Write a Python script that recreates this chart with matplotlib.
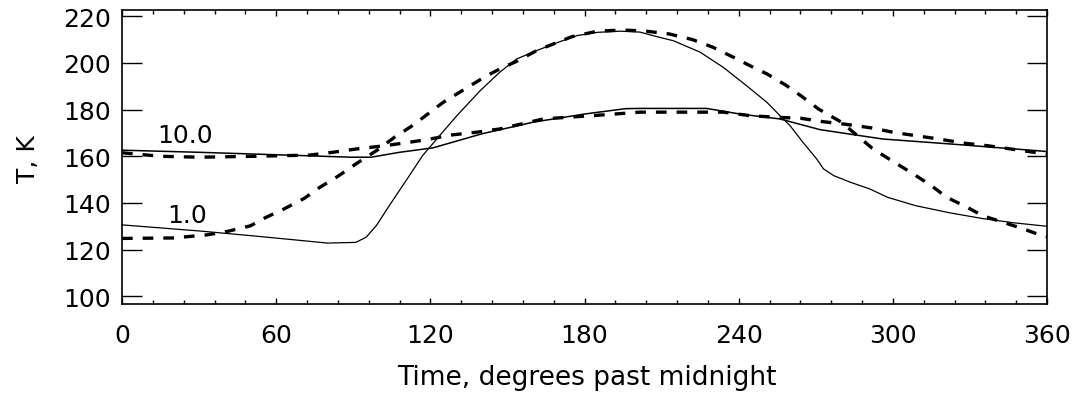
import matplotlib
matplotlib.use("Agg")
import matplotlib.pyplot as plt
from matplotlib.ticker import MultipleLocator

# ---- data ----
x_solid_1 = [0, 30, 50, 67, 80, 91, 95, 99, 104, 111, 117, 122.5, 130, 139.4, 147, 153.6, 161.4,
             169.2, 177, 185, 194, 201.6, 208, 214.6, 225, 234, 243, 251, 256, 260, 265, 270.4,
             273, 277, 283.4, 291, 298, 309, 322, 335, 347, 360]
T_solid_1 = [130.6, 128.0, 126.0, 124.2, 122.8, 123.1, 125.3, 130.3, 138.8, 150.3, 160.3, 167.4,
             177.0, 188.1, 196.0, 201.7, 205.3, 208.6, 211.7, 213.1, 213.6, 213.2, 211.3, 209.5,
             204.6, 198.1, 190.3, 183.1, 177.5, 173.1, 166.0, 158.8, 154.6, 151.7, 148.9, 146.0,
             142.4, 138.8, 135.8, 133.3, 131.5, 130.0]

x_solid_10 = [0, 30, 50, 70, 89, 97, 108, 121, 140, 160, 180, 196, 201.6, 227.5, 240.5, 256,
              271.7, 296, 322, 356, 360]
T_solid_10 = [162.6, 161.7, 161.0, 160.3, 159.6, 159.6, 161.7, 163.6, 169.6, 174.6, 178.1,
              180.4, 180.5, 180.5, 178.1, 176.0, 171.4, 167.4, 165.3, 162.4, 162.0]

x_dash_10 = [0, 15, 30, 52, 73, 82, 91, 102, 110, 119, 128, 138, 147, 164, 183, 201.6, 234,
             244.4, 254.8, 264, 273, 281, 292, 300, 309, 318, 327, 337, 346, 355, 360]
T_dash_10 = [161.5, 160.0, 159.6, 160.0, 160.5, 161.7, 163.1, 164.5, 165.7, 167.2, 169.1, 170.3,
             171.7, 176.0, 177.4, 178.9, 178.9, 177.4, 176.7, 176.3, 174.8, 173.8, 172.1, 170.3,
             168.8, 167.4, 165.7, 164.5, 163.1, 161.7, 161.0]

x_dash_1 = [0, 20, 33, 41, 50, 56, 63, 71, 77, 84, 91, 99, 106, 113, 125, 141, 147, 153.6, 161.4,
            169, 175, 185, 195, 204, 213, 222, 230, 238, 244.4, 251, 258.6, 265, 271, 280, 292,
            300, 307, 315, 321, 329, 335, 343, 351, 358, 360]
T_dash_1 = [124.8, 125.0, 126.3, 127.8, 130.2, 133.8, 137.4, 142.0, 146.7, 151.4, 156.7, 162.4,
            168.1, 173.1, 183.1, 193.9, 197.4, 200.7, 205.3, 208.6, 211.2, 213.6, 214.1, 213.6,
            212.4, 210.0, 206.7, 202.4, 198.8, 195.3, 190.3, 185.3, 180.3, 174.6, 163.4, 157.8,
            153.1, 147.4, 142.4, 138.1, 134.5, 131.7, 128.8, 126.0, 125.5]

x_ticks = [0, 60, 120, 180, 240, 300, 360]
y_ticks = [100, 120, 140, 160, 180, 200, 220]
curve_labels = ["10.0", "1.0"]
label_pos = [(13.6, 166.0), (17.5, 131.8)]

FS = 18
FW = "normal"

# ---- figure ----
W, H = 1078, 402
fig = plt.figure(figsize=(W / 100, H / 100), dpi=100)
ax = fig.add_axes([122 / W, 1 - 305 / H, (1047 - 122) / W, (305 - 10.7) / H])

ax.plot(x_solid_1, T_solid_1, color="black", lw=0.9)
ax.plot(x_solid_10, T_solid_10, color="black", lw=1.1)
ax.plot(x_dash_10, T_dash_10, color="black", lw=2.4, dashes=(3.2, 3.0))
ax.plot(x_dash_1, T_dash_1, color="black", lw=2.4, dashes=(3.2, 3.0))

for lab, (lx, ly) in zip(curve_labels, label_pos):
    ax.text(lx, ly, lab, fontsize=FS, fontweight=FW, ha="left", va="baseline")

ax.set_xlim(0, 360)
ax.set_ylim(96.7, 222.8)
ax.set_xticks(x_ticks)
ax.set_yticks(y_ticks)
ax.xaxis.set_minor_locator(MultipleLocator(12))

ax.tick_params(axis="x", which="major", direction="in", length=4.2, width=1.0,
               top=True, labelsize=FS, pad=14)
ax.tick_params(axis="x", which="minor", direction="in", length=3.0, width=1.0, top=True)
ax.tick_params(axis="y", which="major", direction="in", length=14.4, width=1.0,
               right=True, labelsize=FS, pad=8)
for lbl in ax.get_xticklabels() + ax.get_yticklabels():
    lbl.set_fontweight(FW)
for s in ax.spines.values():
    s.set_linewidth(1.2)

ax.set_xlabel("Time, degrees past midnight", fontsize=FS + 1, fontweight=FW)
ax.set_ylabel("T, K", fontsize=FS, fontweight=FW)
ax.xaxis.set_label_coords(0.503, -0.205)
ax.yaxis.set_label_coords(-0.089, 0.496)

fig.savefig("out.png", dpi=100)
